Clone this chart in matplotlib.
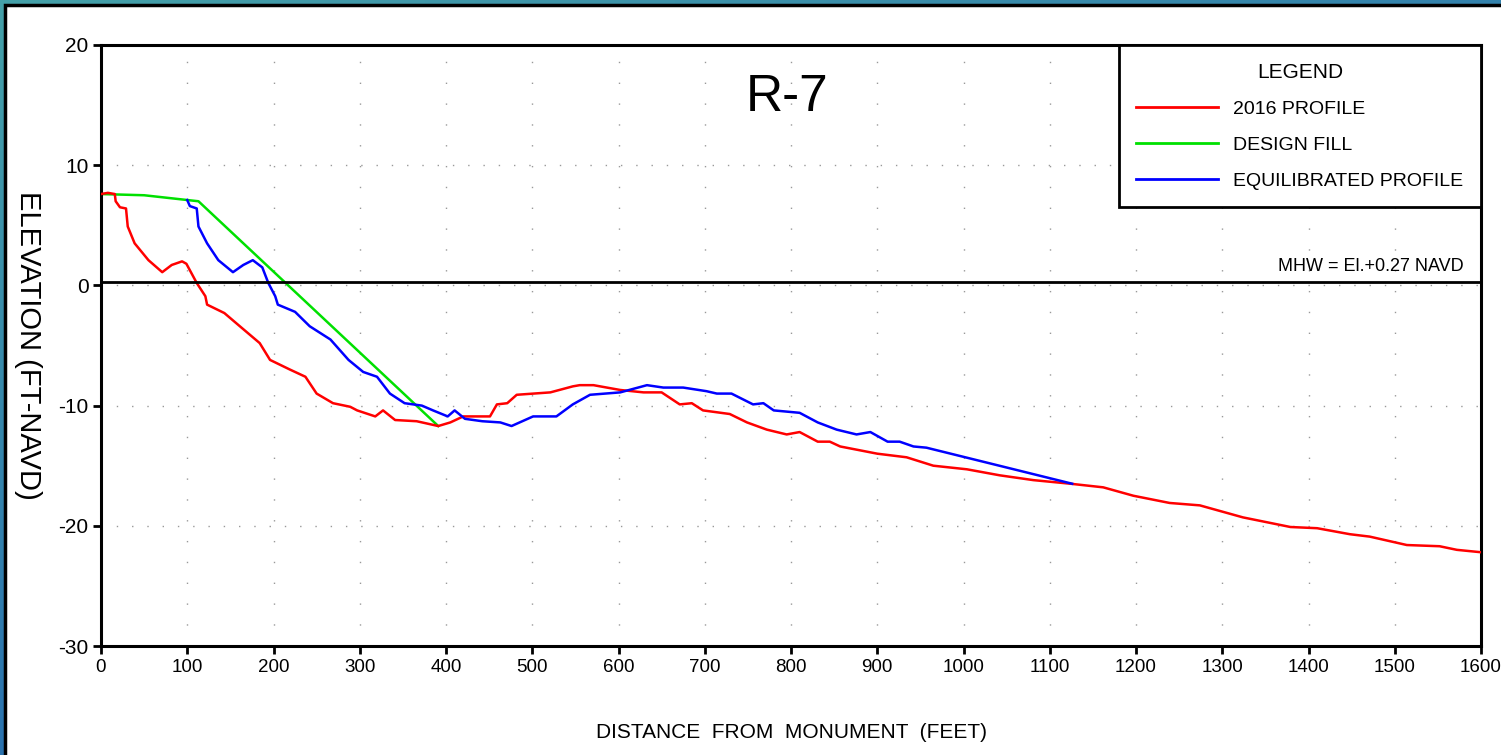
import numpy as np
import matplotlib
matplotlib.use("Agg")
import matplotlib.pyplot as plt
from matplotlib.patches import Rectangle
from matplotlib import font_manager

# pick a narrow sans if it is there
names = {f.name for f in font_manager.fontManager.ttflist}
fam = [n for n in ['Liberation Sans Narrow', 'Liberation Sans', 'DejaVu Sans'] if n in names]
plt.rcParams['font.family'] = fam
plt.rcParams['axes.unicode_minus'] = False

# 2016 profile (ft, ft-NAVD)
prof_x = [0, 8, 16, 17, 22, 29, 31, 39, 55, 71, 82, 94, 99, 111, 121, 123, 143, 161,
          184, 196, 219, 237, 250, 269, 289, 297, 318, 327, 341, 366, 391, 405, 420,
          451, 459, 471, 482, 521, 547, 555, 571, 602, 629, 650, 671, 685, 698, 729,
          749, 772, 795, 810, 831, 845, 857, 900, 934, 965, 1004, 1042, 1081, 1124,
          1162, 1197, 1239, 1274, 1324, 1379, 1410, 1448, 1471, 1514, 1552, 1572, 1600]
prof_y = [7.6, 7.7, 7.6, 7.0, 6.5, 6.4, 4.9, 3.5, 2.1, 1.1, 1.7, 2.0, 1.8, 0.2, -0.9,
          -1.6, -2.3, -3.4, -4.8, -6.2, -7.0, -7.6, -9.0, -9.8, -10.1, -10.4, -10.9,
          -10.4, -11.2, -11.3, -11.7, -11.4, -10.9, -10.9, -9.9, -9.8, -9.1, -8.9,
          -8.4, -8.3, -8.3, -8.7, -8.9, -8.9, -9.9, -9.8, -10.4, -10.7, -11.4, -12.0,
          -12.4, -12.2, -13.0, -13.0, -13.4, -14.0, -14.3, -15.0, -15.3, -15.8, -16.2,
          -16.5, -16.8, -17.5, -18.1, -18.3, -19.3, -20.1, -20.2, -20.7, -20.9, -21.6,
          -21.7, -22.0, -22.2]

# design fill template
fill_x = [0, 50, 113, 391]
fill_y = [7.6, 7.5, 7.0, -11.7]

# equilibrated profile
eq_x = [100, 103, 111, 113, 123, 136, 153, 165, 176, 187, 194, 202, 205, 225, 242,
        266, 287, 304, 320, 335, 352, 372, 385, 402, 410, 422, 442, 463, 476, 501,
        528, 547, 567, 602, 633, 652, 675, 702, 714, 731, 756, 768, 780, 810, 831,
        853, 876, 892, 912, 926, 942, 957, 1126]
eq_y = [7.1, 6.6, 6.4, 4.9, 3.5, 2.1, 1.1, 1.7, 2.1, 1.5, 0.2, -0.9, -1.6, -2.2, -3.4,
        -4.5, -6.2, -7.2, -7.6, -9.0, -9.8, -10.0, -10.4, -10.9, -10.4, -11.1, -11.3,
        -11.4, -11.7, -10.9, -10.9, -9.9, -9.1, -8.9, -8.3, -8.5, -8.5, -8.8, -9.0,
        -9.0, -9.9, -9.8, -10.4, -10.6, -11.4, -12.0, -12.4, -12.2, -13.0, -13.0,
        -13.4, -13.5, -16.5]

mhw = 0.27

W, H = 1501, 755
fig = plt.figure(figsize=(W / 100, H / 100), dpi=100)

# slide background (teal to blue) and the white panel
bg = fig.add_axes([0, 0, 1, 1], zorder=-10)
gy, gx = np.mgrid[0:1:60j, 0:1:60j]
t = np.clip(0.6 * gy + 0.4 * gx, 0, 1)[..., None]
c1 = np.array([0.27, 0.63, 0.66])
c2 = np.array([0.10, 0.33, 0.70])
bg.imshow(c1 * (1 - t) + c2 * t, aspect='auto', extent=[0, 1, 0, 1], origin='upper')
bg.set_axis_off()
fig.add_artist(Rectangle((5 / W, -0.02), 1.05, (H - 5) / H + 0.02, transform=fig.transFigure,
                         facecolor='white', edgecolor='black', lw=2.5, zorder=-5))

ax = fig.add_axes([101 / W, 1 - 646 / H, 1380 / W, 601 / H])
ax.set_facecolor('none')

ax.plot(prof_x, prof_y, color='#ff0000', lw=1.8, label='2016 PROFILE', zorder=3)
ax.plot(fill_x, fill_y, color='#00e000', lw=1.8, label='DESIGN FILL', zorder=2)
ax.plot(eq_x, eq_y, color='#0000ff', lw=1.8, label='EQUILIBRATED PROFILE', zorder=4)

ax.axhline(mhw, color='black', lw=2, zorder=5)
ax.text(1580, mhw + 0.6, 'MHW = El.+0.27 NAVD', ha='right', va='bottom', fontsize=13)

ax.set_xlim(0, 1600)
ax.set_ylim(-30, 20)
ax.set_xticks(np.arange(0, 1601, 100))
ax.set_yticks(np.arange(-30, 21, 10))
ax.tick_params(direction='out', length=6, width=2, pad=3)
ax.tick_params(axis='x', labelsize=13.5)
ax.tick_params(axis='y', labelsize=15)
for s in ax.spines.values():
    s.set_linewidth(2.2)

for xv in range(100, 1600, 100):
    ax.axvline(xv, color='#999999', lw=1, ls=(0, (1, 14)), zorder=0)
for yv in range(-20, 20, 10):
    ax.axhline(yv, color='#999999', lw=1, ls=(0, (1, 10)), zorder=0)

ax.text(0.497, 0.912, 'R-7', transform=ax.transAxes, ha='center', va='center', fontsize=37)

ax.set_xlabel('DISTANCE  FROM  MONUMENT  (FEET)', fontsize=15, va='center')
ax.xaxis.set_label_coords(0.5, -87 / 601)
ax.set_ylabel('ELEVATION (FT-NAVD)', fontsize=21, rotation=270, va='center')
ax.yaxis.set_label_coords(-73 / 1380, 0.5)

leg = ax.legend(loc='upper right', borderaxespad=0, fontsize=14, title='LEGEND',
                title_fontsize=15, handlelength=4.2, handletextpad=0.8,
                labelspacing=0.95, borderpad=0.9, fancybox=False, framealpha=1)
leg.get_frame().set_edgecolor('black')
leg.get_frame().set_linewidth(2)
for line in leg.get_lines():
    line.set_linewidth(2)

fig.savefig('out.png', dpi=100)
